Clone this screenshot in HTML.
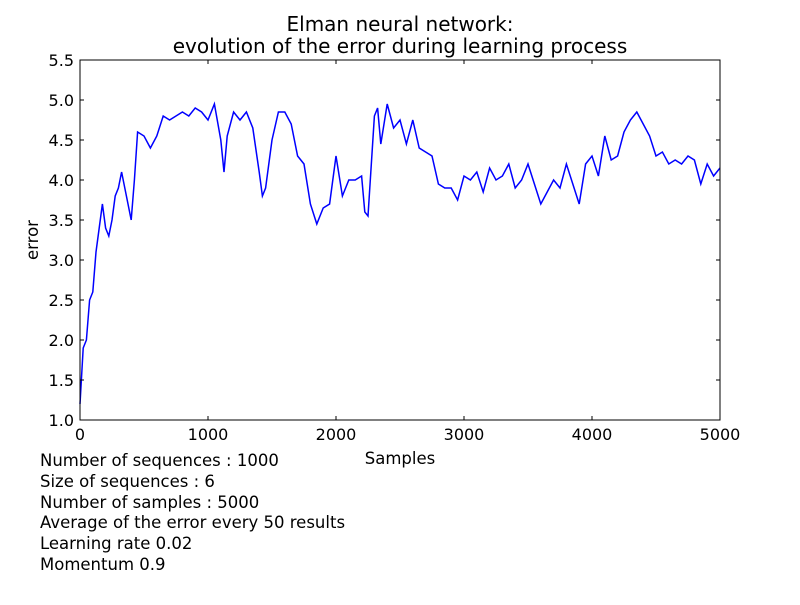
<!DOCTYPE html>
<html><head><meta charset="utf-8"><style>
body{margin:0;background:#fff;font-family:"Liberation Sans","DejaVu Sans",sans-serif}
</style></head><body>
<svg id="chart" width="800" height="600" xmlns="http://www.w3.org/2000/svg" font-family="DejaVu Sans, Liberation Sans, sans-serif">
<rect width="800" height="600" fill="#fff"/>
<text x="400" y="31" text-anchor="middle" font-size="20">Elman neural network:</text>
<text x="400" y="53" text-anchor="middle" font-size="20">evolution of the error during learning process</text>
<g id="axes"></g>
<text x="400" y="464" text-anchor="middle" font-size="16.5">Samples</text>
<text x="38" y="240" text-anchor="middle" font-size="16.5" transform="rotate(-90 38 240)">error</text>
<g font-size="16.5">
<text x="40" y="466">Number of sequences : 1000</text>
<text x="40" y="487">Size of sequences : 6</text>
<text x="40" y="508">Number of samples : 5000</text>
<text x="40" y="528">Average of the error every 50 results</text>
<text x="40" y="549">Learning rate 0.02</text>
<text x="40" y="570">Momentum 0.9</text>
</g>
</svg>
<script>
const samples=[0,25,50,75,100,125,150,175,200,225,250,275,300,325,350,375,400,425,450,500,550,600,650,700,750,800,850,900,950,1000,1050,1100,1125,1150,1200,1250,1300,1350,1400,1425,1450,1500,1550,1600,1650,1700,1750,1800,1850,1900,1950,2000,2050,2100,2150,2200,2225,2250,2300,2325,2350,2400,2450,2500,2550,2600,2650,2700,2750,2800,2850,2900,2950,3000,3050,3100,3150,3200,3250,3300,3350,3400,3450,3500,3550,3600,3650,3700,3750,3800,3850,3900,3950,4000,4050,4100,4150,4200,4250,4300,4350,4400,4450,4500,4550,4600,4650,4700,4750,4800,4850,4900,4950,5000];
const errors=[1.2,1.9,2.0,2.5,2.6,3.1,3.4,3.7,3.4,3.3,3.5,3.8,3.9,4.1,3.9,3.7,3.5,4.0,4.6,4.55,4.4,4.55,4.8,4.75,4.8,4.85,4.8,4.9,4.85,4.75,4.95,4.5,4.1,4.55,4.85,4.75,4.85,4.65,4.1,3.8,3.9,4.5,4.85,4.85,4.7,4.3,4.2,3.7,3.45,3.65,3.7,4.3,3.8,4.0,4.0,4.05,3.6,3.55,4.8,4.9,4.45,4.95,4.65,4.75,4.45,4.75,4.4,4.35,4.3,3.95,3.9,3.9,3.75,4.05,4.0,4.1,3.85,4.15,4.0,4.05,4.2,3.9,4.0,4.2,3.95,3.7,3.85,4.0,3.9,4.2,3.95,3.7,4.2,4.3,4.05,4.55,4.25,4.3,4.6,4.75,4.85,4.7,4.55,4.3,4.35,4.2,4.25,4.2,4.3,4.25,3.95,4.2,4.05,4.15];
const xTicks=[0,1000,2000,3000,4000,5000];
const yTicks=[1.0,1.5,2.0,2.5,3.0,3.5,4.0,4.5,5.0,5.5];
const L=80,R=720,T=60,B=420;
const xs=v=>L+(v/5000)*(R-L);
const ys=v=>B-(v-1.0)/4.5*(B-T);
const NS="http://www.w3.org/2000/svg";
const g=document.getElementById('axes');
function mk(t,a,p){const e=document.createElementNS(NS,t);for(const k in a)e.setAttribute(k,a[k]);(p||g).appendChild(e);return e;}
let d='';samples.forEach((s,i)=>{d+=(i?'L':'M')+xs(s).toFixed(1)+' '+ys(errors[i]).toFixed(1);});
const line=mk('path',{d:d,fill:'none',stroke:'#0000ff','stroke-width':1.5});


const frame=mk('rect',{x:L,y:T,width:R-L,height:B-T,fill:'none',stroke:'#000','stroke-width':1});


xTicks.forEach(v=>{const x=xs(v);
mk('line',{x1:x,x2:x,y1:B,y2:B-4,stroke:'#000'});mk('line',{x1:x,x2:x,y1:T,y2:T+4,stroke:'#000'});
const t=mk('text',{x:x,y:B+20,'text-anchor':'middle','font-size':16});t.textContent=v;

});
yTicks.forEach(v=>{const y=ys(v);
mk('line',{x1:L,x2:L+4,y1:y,y2:y,stroke:'#000'});mk('line',{x1:R,x2:R-4,y1:y,y2:y,stroke:'#000'});
const t=mk('text',{x:L-6,y:y+6,'text-anchor':'end','font-size':16});t.textContent=v.toFixed(1);

});
</script>
</body></html>
